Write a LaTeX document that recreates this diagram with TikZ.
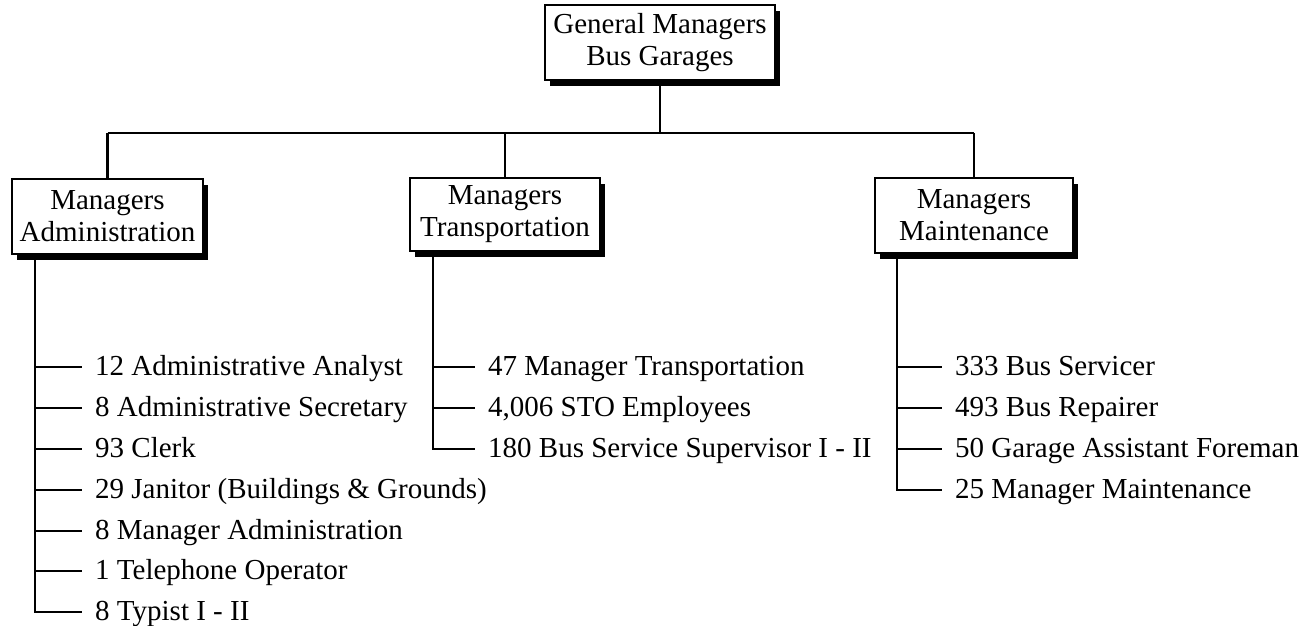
\documentclass[tikz,border=0pt]{standalone}
\usepackage{fontspec}
\setmainfont{Liberation Serif}
\usetikzlibrary{shadows}
\begin{document}
\begin{tikzpicture}[x=1pt,y=-1pt,
  box/.style={draw, line width=2pt, fill=white, align=center,
    font=\fontsize{29}{32}\selectfont, inner sep=0pt,
    drop shadow={shadow xshift=5pt, shadow yshift=-6pt, opacity=1, fill=black}},
  item/.style={anchor=west, font=\fontsize{29}{32}\selectfont,
    inner xsep=13pt, inner ysep=0pt, text height=17pt, text depth=0pt},
  conn/.style={line width=2.2pt}]
\useasboundingbox (0,0) rectangle (1306,625);

% boxes
\node[box, minimum width=230pt, minimum height=75pt] (gm) at (660,42.5) {General Managers\\Bus Garages};
\node[box, minimum width=191pt, minimum height=75pt] (adm) at (107.5,216.5) {Managers\\Administration};
\node[box, minimum width=190pt, minimum height=73pt] (tra) at (505,214.5) {Managers\\Transportation};
\node[box, minimum width=198pt, minimum height=75pt] (mai) at (974,215.5) {Managers\\Maintenance};

% tree connectors
\coordinate (bar) at (0,133);
\draw[conn] (gm.south) -- (gm.south |- bar);
\draw[conn] (adm.north |- bar) -- (mai.north |- bar);
\draw[conn] (adm.north |- bar) -- (adm.north);
\draw[conn] (tra.north |- bar) -- (tra.north);
\draw[conn] (mai.north |- bar) -- (mai.north);

% administration list
\coordinate (aL) at (35,254);
\node[item] (a1) at (82,367) {12 Administrative Analyst};
\node[item] (a2) at (82,408) {8 Administrative Secretary};
\node[item] (a3) at (82,449) {93 Clerk};
\node[item] (a4) at (82,490) {29 Janitor (Buildings \& Grounds)};
\node[item] (a5) at (82,531) {8 Manager Administration};
\node[item] (a6) at (82,571) {1 Telephone Operator};
\node[item] (a7) at (82,612) {8 Typist I - II};
\draw[conn] (aL) |- (a7.west);
\foreach \n in {a1,a2,a3,a4,a5,a6} \draw[conn] (aL |- \n.west) -- (\n.west);

% transportation list
\coordinate (tL) at (433,251);
\node[item] (t1) at (475,367) {47 Manager Transportation};
\node[item] (t2) at (475,408) {4,006 STO Employees};
\node[item] (t3) at (475,449) {180 Bus Service Supervisor I - II};
\draw[conn] (tL) |- (t3.west);
\foreach \n in {t1,t2} \draw[conn] (tL |- \n.west) -- (\n.west);

% maintenance list
\coordinate (mL) at (897,253);
\node[item] (m1) at (942,367) {333 Bus Servicer};
\node[item] (m2) at (942,408) {493 Bus Repairer};
\node[item] (m3) at (942,449) {50 Garage Assistant Foreman};
\node[item] (m4) at (942,490) {25 Manager Maintenance};
\draw[conn] (mL) |- (m4.west);
\foreach \n in {m1,m2,m3} \draw[conn] (mL |- \n.west) -- (\n.west);
\end{tikzpicture}
\end{document}
